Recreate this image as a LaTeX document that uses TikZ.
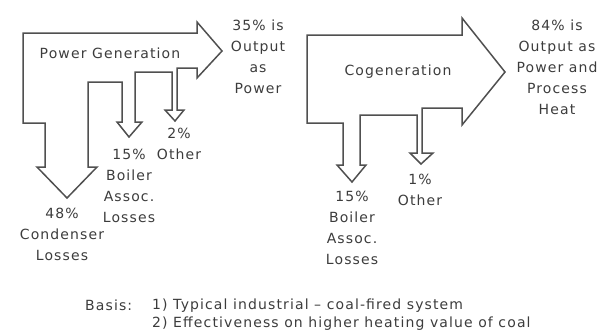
\documentclass[tikz,border=0pt]{standalone}
\usepackage{fontspec}
\setmainfont{DejaVu Sans}[LetterSpace=8]
\definecolor{flowgray}{RGB}{80,80,80}
\definecolor{txtgray}{RGB}{60,60,60}
\tikzset{
  flow/.style={draw=flowgray, line width=1.5pt, line join=miter},
  lbl/.style={text=txtgray, font=\fontsize{14}{21}\selectfont, align=center, inner sep=0pt},
  note/.style={text=txtgray, font=\fontsize{14}{18}\selectfont, align=left, inner sep=0pt, anchor=west},
}
\begin{document}
\begin{tikzpicture}[x=1pt, y=-1pt]
\useasboundingbox (0,0) rectangle (602,333);

% power generation flow
\draw[flow] (23,33) -- (197,33) -- (197,22) -- (222,51) -- (197,78) -- (197,68)
  -- (177,68) -- (177,110) -- (184,110) -- (175,121) -- (165,110) -- (172,110)
  -- (172,72) -- (135,72) -- (135,122) -- (142,122) -- (129,137) -- (117,122)
  -- (122,122) -- (122,82) -- (88,82) -- (88,167) -- (97,167) -- (67,198)
  -- (37,167) -- (45,167) -- (45,123) -- (23,123) -- cycle;

% cogeneration flow
\draw[flow] (307,35) -- (462,35) -- (462,18) -- (505,72) -- (462,125) -- (462,108)
  -- (422,108) -- (422,153) -- (433,153) -- (421,164) -- (410,153) -- (417,153)
  -- (417,115) -- (360,115) -- (360,165) -- (366,165) -- (352,182) -- (337,165)
  -- (343,165) -- (343,123) -- (307,123) -- cycle;

\node[lbl] (pg) at (110,53) {Power Generation};
\node[lbl] (pgout) at (258,57) {35\% is\\Output\\as\\Power};
\node[lbl] (pgother) at (179,144) {2\%\\Other};
\node[lbl] (pgboil) at (129,186) {15\%\\Boiler\\Assoc.\\Losses};
\node[lbl] (pgcond) at (62,234) {48\%\\Condenser\\Losses};

\node[lbl] (cg) at (398,72) {Cogeneration};
\node[lbl] (cgout) at (557,67) {84\% is\\Output as\\Power and\\Process\\Heat};
\node[lbl] (cgother) at (420,190) {1\%\\Other};
\node[lbl] (cgboil) at (352,228) {15\%\\Boiler\\Assoc.\\Losses};

\node[note] (basis) at (85,305) {Basis:};
\node[note, anchor=north west] (items) at (152,299) {1) Typical industrial -- coal-fired system\\2) Effectiveness on higher heating value of coal};
\end{tikzpicture}
\end{document}
